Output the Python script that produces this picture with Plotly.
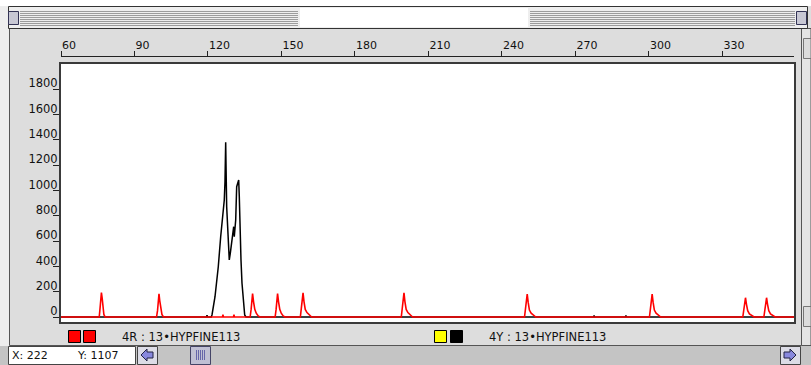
import plotly.graph_objects as go

# ---------------- data ----------------
black_bp = [60.0, 119.4, 119.6, 119.8, 121.3, 121.63, 122.86, 124.2, 125.18, 125.84, 126.24,
            126.65, 126.94, 127.22, 127.35, 127.63, 128.04, 128.45, 128.69, 129.1, 129.67,
            130.08, 130.49, 130.73, 131.31, 131.71, 132.12, 132.53, 132.78, 133.06, 133.47,
            133.88, 134.41, 134.98, 135.5, 277.4, 277.6, 277.8, 290.4, 290.6, 290.8, 359.2]
black_rfu = [0, 0, 15, 0, 0, 16, 160, 397, 634, 766, 845,
             924, 1068, 1380, 1213, 871, 661, 529, 450, 503, 608,
             687, 713, 634, 766, 1029, 1068, 1082, 950, 687, 450,
             266, 108, 16, 0, 0, 12, 0, 0, 12, 0, 0]

red_bp = [60.0,
          75.6, 75.9, 76.2, 76.5, 76.8, 77.1, 77.5, 78.0,
          99.0, 99.4, 99.7, 100.0, 100.3, 100.7, 101.2, 101.8,
          125.9, 126.1, 126.3, 130.4, 130.6, 130.8,
          137.2, 137.6, 137.9, 138.2, 138.6, 139.1, 139.7, 140.5, 141.2,
          147.4, 147.8, 148.1, 148.4, 148.8, 149.3, 149.9, 150.7, 151.4,
          157.7, 158.1, 158.5, 158.8, 159.2, 159.7, 160.4, 161.3, 162.3,
          198.9, 199.3, 199.7, 200.0, 200.4, 200.9, 201.6, 202.5, 203.5,
          249.2, 249.6, 250.0, 250.3, 250.7, 251.2, 251.9, 252.8, 253.8,
          300.2, 300.6, 301.0, 301.3, 301.7, 302.2, 302.9, 303.8, 304.8,
          338.3, 338.7, 339.1, 339.4, 339.8, 340.3, 341.0, 341.9, 342.9,
          346.9, 347.3, 347.7, 348.0, 348.4, 348.9, 349.6, 350.5, 351.5,
          359.2]
red_rfu = [0,
           0, 60, 170, 193, 150, 60, 20, 0,
           0, 50, 150, 182, 130, 60, 20, 0,
           0, 18, 0, 0, 18, 0,
           0, 60, 160, 185, 120, 60, 30, 8, 0,
           0, 60, 160, 185, 120, 60, 30, 8, 0,
           0, 70, 170, 190, 120, 60, 35, 15, 0,
           0, 70, 170, 190, 120, 60, 35, 15, 0,
           0, 65, 160, 180, 115, 55, 30, 12, 0,
           0, 65, 160, 180, 115, 55, 30, 12, 0,
           0, 55, 135, 152, 100, 50, 25, 10, 0,
           0, 55, 135, 152, 100, 50, 25, 10, 0,
           0]

top_ticks = [60, 90, 120, 150, 180, 210, 240, 270, 300, 330]
y_ticks = [0, 200, 400, 600, 800, 1000, 1200, 1400, 1600, 1800]
legend_red = "4R : 13•HYPFINE113"
legend_yel = "4Y : 13•HYPFINE113"
status_x = "X: 222"
status_y = "Y: 1107"

# ---------------- geometry helpers ----------------
W, H = 811, 365
def px(x):
    return x / W
def py(y):
    return 1 - y / H

X_RANGE = [60.0, 359.2]
Y_RANGE = [-39.5, 1997.4]

FONT = "DejaVu Sans"

fig = go.Figure()
fig.add_trace(go.Scatter(x=black_bp, y=black_rfu, mode="lines",
                         line=dict(color="#000000", width=1.5), hoverinfo="skip",
                         showlegend=False))
fig.add_trace(go.Scatter(x=red_bp, y=red_rfu, mode="lines",
                         line=dict(color="#ff0000", width=1.6), hoverinfo="skip",
                         showlegend=False))
# invisible trace so the top size axis is drawn
fig.add_trace(go.Scatter(x=[X_RANGE[0]], y=[0], xaxis="x2", yaxis="y", mode="markers",
                         marker=dict(opacity=0), hoverinfo="skip", showlegend=False))

def rect(x0, x1, y0, y1, fill, line_color=None, lw=1):
    return dict(type="rect", xref="paper", yref="paper", x0=px(x0), x1=px(x1),
                y0=py(y1), y1=py(y0), fillcolor=fill,
                line=dict(color=line_color or "rgba(0,0,0,0)", width=lw if line_color else 0))

shapes = []
shapes.append(rect(0, 9, 0, 346, "#eeeeee"))
shapes.append(rect(9.5, 801.5, 28.5, 345.5, "rgba(0,0,0,0)", "#555555"))
# right scrollbar column
shapes.append(rect(801.5, 811, 28.5, 345.5, "#e4e4e4", "#555555"))
shapes.append(rect(803.5, 811, 38.5, 58.5, "#dcdcdc", "#777777"))
shapes.append(rect(803.5, 811, 306.5, 326.5, "#dcdcdc", "#777777"))
# title bar
shapes.append(rect(0, 811, 0, 6, "#ffffff"))
shapes.append(rect(8.5, 807.5, 6.5, 28.5, "#eeeeee", "#333333"))
stripe = ""
for yy in range(11, 26, 2):
    y = py(yy + 0.5)
    stripe += f"M{px(20)},{y} L{px(298)},{y} M{px(530)},{y} L{px(795)},{y} "
shapes.append(dict(type="path", xref="paper", yref="paper", path=stripe,
                   line=dict(color="#9c9c9c", width=1)))
shapes.append(rect(300, 528, 8, 27, "#ffffff"))
for bx in (8.5, 796.5):
    shapes.append(rect(bx, bx + 10, 11.5, 24.5, "#c8c8d4", "#333355"))
# plot frame
shapes.append(dict(type="rect", xref="paper", yref="paper", x0=px(60), x1=px(795),
                   y0=py(323), y1=py(63), line=dict(color="#3a3a3a", width=2)))
# legend squares
for x0, col in ((68.5, "#ff0000"), (83.5, "#ff0000"), (434.5, "#ffff00"), (450.5, "#000000")):
    shapes.append(rect(x0, x0 + 12, 330.5, 342.5, col, "#000000"))
# status bar
shapes.append(rect(0, 811, 346, 365, "#c4c4c4"))
shapes.append(rect(8.5, 135.5, 346.5, 364.5, "#ffffff", "#444444"))
for bx in (137.5, 780.5):
    shapes.append(rect(bx, bx + 20, 346.5, 364.5, "#dcdce6", "#444444"))
la = f"M{px(141)},{py(355)} L{px(147)},{py(349)} L{px(147)},{py(352)} L{px(153)},{py(352)} L{px(153)},{py(358)} L{px(147)},{py(358)} L{px(147)},{py(361)} Z"
ra = f"M{px(796)},{py(355)} L{px(790)},{py(349)} L{px(790)},{py(352)} L{px(784)},{py(352)} L{px(784)},{py(358)} L{px(790)},{py(358)} L{px(790)},{py(361)} Z"
for p in (la, ra):
    shapes.append(dict(type="path", xref="paper", yref="paper", path=p,
                       fillcolor="#8888dd", line=dict(color="#222244", width=1)))
shapes.append(rect(190.5, 210.5, 346.5, 364.5, "#c0c0d4", "#444466"))
thumb = ""
for xx in (196.5, 198.5, 200.5, 202.5, 204.5):
    thumb += f"M{px(xx)},{py(350)} L{px(xx)},{py(360)} "
shapes.append(dict(type="path", xref="paper", yref="paper", path=thumb,
                   line=dict(color="#6666aa", width=1)))

annotations = [
    dict(text=legend_red, x=px(120), y=py(337), xref="paper", yref="paper",
         xanchor="left", yanchor="middle", showarrow=False,
         font=dict(family=FONT, size=11.5, color="#111111")),
    dict(text=legend_yel, x=px(487), y=py(337), xref="paper", yref="paper",
         xanchor="left", yanchor="middle", showarrow=False,
         font=dict(family=FONT, size=11.5, color="#111111")),
    dict(text=status_x, x=px(10), y=py(355.5), xref="paper", yref="paper",
         xanchor="left", yanchor="middle", showarrow=False,
         font=dict(family=FONT, size=11, color="#111111")),
    dict(text=status_y, x=px(75), y=py(355.5), xref="paper", yref="paper",
         xanchor="left", yanchor="middle", showarrow=False,
         font=dict(family=FONT, size=11, color="#111111")),
]

fig.update_layout(
    width=W, height=H, autosize=False,
    margin=dict(l=0, r=0, t=0, b=0, pad=0),
    paper_bgcolor="#dddddd",
    plot_bgcolor="#ffffff",
    showlegend=False,
    xaxis=dict(domain=[px(61), px(794)], range=X_RANGE, showticklabels=False,
               ticks="", showgrid=False, zeroline=False, showline=False,
               fixedrange=True),
    xaxis2=dict(domain=[px(61), px(794)], range=X_RANGE, overlaying="x",
                anchor="free", position=py(56), side="top",
                tickmode="array", tickvals=top_ticks,
                ticks="outside", ticklen=5, tickwidth=1, tickcolor="#222222",
                showline=True, linecolor="#222222", linewidth=1,
                ticklabelposition="outside right", ticklabelstandoff=3,
                tickfont=dict(family=FONT, size=11, color="#111111"),
                showgrid=False, zeroline=False, fixedrange=True),
    yaxis=dict(domain=[py(322), py(64)], range=Y_RANGE,
               tickmode="array", tickvals=y_ticks,
               ticks="outside", ticklen=7, tickwidth=1, tickcolor="#222222",
               ticklabelposition="outside top", ticklabelshift=3,
               tickfont=dict(family=FONT, size=11.5, color="#111111"),
               showgrid=False, zeroline=False, showline=False, fixedrange=True),
    shapes=shapes,
    annotations=annotations,
)

fig.write_html("out.html", config={"displayModeBar": False},
               post_script="document.body.style.margin='0';document.body.style.overflow='hidden';")
